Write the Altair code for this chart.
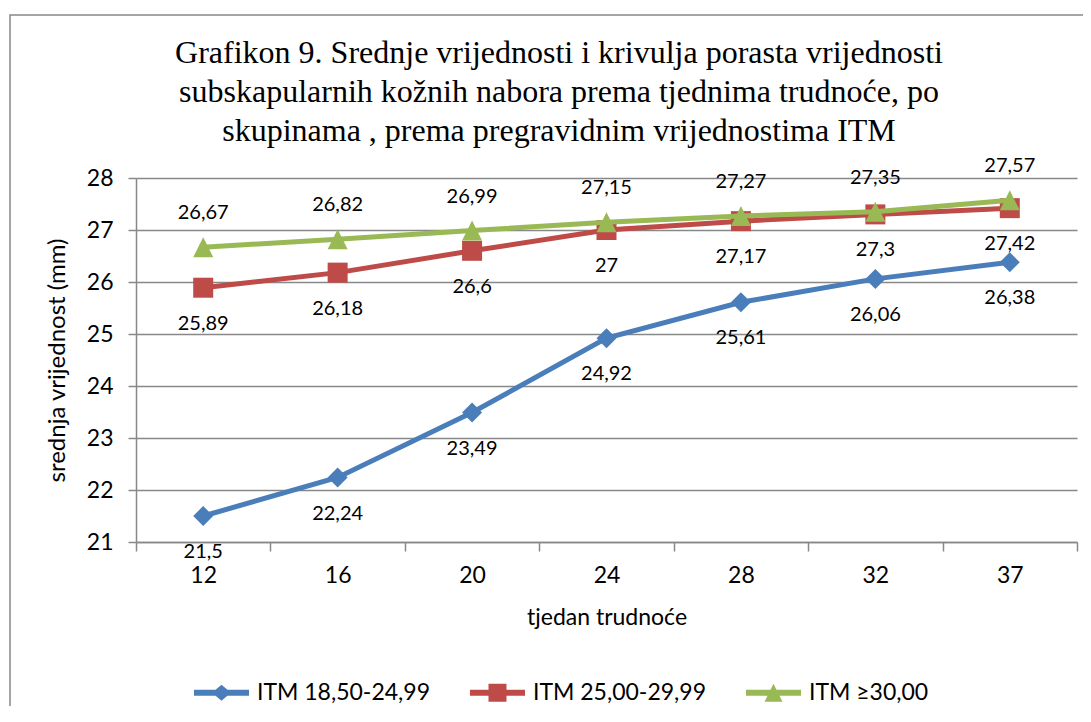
import altair as alt
import pandas as pd

# ---- data ----
weeks = ["12", "16", "20", "24", "28", "32", "37"]
series_names = ["ITM 18,50-24,99", "ITM 25,00-29,99", "ITM \u226530,00"]
itm_normal = [21.5, 22.24, 23.49, 24.92, 25.61, 26.06, 26.38]
itm_over = [25.89, 26.18, 26.6, 27, 27.17, 27.3, 27.42]
itm_obese = [26.67, 26.82, 26.99, 27.15, 27.27, 27.35, 27.57]
y_ticks = [21, 22, 23, 24, 25, 26, 27, 28]

title_text = ("Grafikon 9. Srednje vrijednosti i krivulja porasta vrijednosti\n"
              "subskapularnih ko\u017enih nabora prema tjednima trudno\u0107e, po\n"
              "skupinama , prema pregravidnim vrijednostima ITM")

# ---- styles ----
colors = ["#4A7EBB", "#BE4B48", "#98B954"]
marker_paths = [
    "M0,-1 L1,0 L0,1 L-1,0 Z",
    "M-1,-1 L1,-1 L1,1 L-1,1 Z",
    "M0,-1 L1,1 L-1,1 Z",
]
marker_sizes = [400, 400, 400]
legend_paths = [
    "M-2.75,-0.3 L2.75,-0.3 L2.75,0.3 L-2.75,0.3 Z M0,-0.8 L0.95,0 L0,0.8 L-0.95,0 Z",
    "M-2.75,-0.3 L2.75,-0.3 L2.75,0.3 L-2.75,0.3 Z M-0.9,-0.9 L0.9,-0.9 L0.9,0.9 L-0.9,0.9 Z",
    "M-2.75,-0.3 L2.75,-0.3 L2.75,0.3 L-2.75,0.3 Z M0,-0.9 L0.9,0.9 L-0.9,0.9 Z",
]
label_dy = [36, 36, -34]
FONT = "Lato"
GRID = "#888888"

rows = []
for name, vals in zip(series_names, [itm_normal, itm_over, itm_obese]):
    for w, v in zip(weeks, vals):
        rows.append({"week": w, "value": v, "series": name,
                     "label": f"{v:g}".replace(".", ",")})
df = pd.DataFrame(rows)

color_scale = alt.Scale(domain=series_names, range=colors)

x_enc = alt.X(
    "week:N", sort=weeks,
    scale=alt.Scale(domain=weeks, paddingInner=0, paddingOuter=0),
    axis=alt.Axis(
        title="tjedan trudno\u0107e", labelAngle=0, tickBand="extent",
        tickSize=9, tickWidth=1.5, tickColor=GRID,
        domainColor=GRID, domainWidth=1.5,
        labelFont=FONT, labelFontSize=23, labelColor="black", labelPadding=13,
        titleFont=FONT, titleFontSize=23, titleFontWeight="normal",
        titleColor="black", titlePadding=19, grid=False,
    ),
)
y_enc = alt.Y(
    "value:Q",
    scale=alt.Scale(domain=[y_ticks[0], y_ticks[-1]], nice=False, zero=False),
    axis=alt.Axis(
        title="srednja vrijednost (mm)", values=y_ticks, format="d",
        tickSize=8, tickWidth=1.5, tickColor=GRID,
        domainColor=GRID, domainWidth=1.5,
        gridColor=GRID, gridWidth=1.5,
        labelFont=FONT, labelFontSize=23, labelColor="black", labelPadding=15,
        titleFont=FONT, titleFontSize=24, titleFontWeight="normal",
        titleColor="black", titlePadding=17,
    ),
)

base = alt.Chart(df)

# outer frame of the chart
frame = alt.Chart(pd.DataFrame({"f": [0]})).mark_rect(
    fillOpacity=0, stroke=GRID, strokeWidth=1.5
).encode(x=alt.value(-126), x2=alt.value(975), y=alt.value(-163), y2=alt.value(552))

title = alt.Chart(pd.DataFrame({"t": [title_text]})).mark_text(
    font="Liberation Serif", fontSize=32, color="black", lineBreak="\n",
    lineHeight=39, align="center", baseline="alphabetic",
).encode(text="t:N", x=alt.value(423), y=alt.value(-115))

layers = [frame, title]
for i, name in enumerate(series_names):
    sub = base.transform_filter(alt.datum.series == name)
    layers.append(sub.mark_line(strokeWidth=5, color=colors[i]).encode(x=x_enc, y=y_enc))
    layers.append(sub.mark_point(shape=marker_paths[i], size=marker_sizes[i], filled=True,
                                 opacity=1, strokeWidth=0, color=colors[i]).encode(x=x_enc, y=y_enc))
for i, name in enumerate(series_names):
    sub = base.transform_filter(alt.datum.series == name)
    layers.append(sub.mark_text(font=FONT, fontSize=20, color="black", dy=label_dy[i],
                                baseline="middle").encode(x=x_enc, y=y_enc, text="label:N"))

legend_def = alt.Legend(
    orient="none", legendX=74, legendY=503, direction="horizontal", title=None,
    labelFont=FONT, labelFontSize=23, labelColor="black", labelOffset=24, labelLimit=400,
    symbolSize=400, symbolStrokeWidth=0, columnPadding=40,
)
legend_layer = alt.Chart(alt.Data(values=[{"series": n} for n in series_names])).mark_point(
    filled=True, size=400, opacity=1
).encode(
    y=alt.Y("value:Q"),
    color=alt.Color("series:N", scale=color_scale, legend=legend_def),
    shape=alt.Shape("series:N", scale=alt.Scale(domain=series_names, range=legend_paths),
                    legend=legend_def),
)
layers.append(legend_layer)

chart = alt.layer(*layers).properties(
    width=941, height=364,
    autosize=alt.AutoSizeParams(type="none"),
    padding={"left": 128, "top": 170, "right": 6, "bottom": 164},
).configure_view(stroke="transparent")

chart.save("out.html", embed_options={"renderer": "svg", "actions": False})
